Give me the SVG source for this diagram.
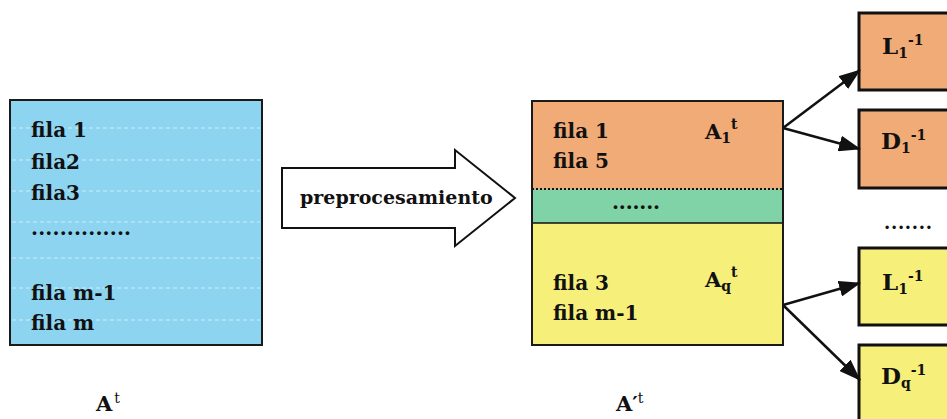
<svg xmlns="http://www.w3.org/2000/svg" width="947" height="419" viewBox="0 0 947 419">
  <style>
    .t { font-family: "DejaVu Serif", "Liberation Serif", serif; font-weight: bold; font-size: 20px; fill: #111; }
    .lbl { font-family: "DejaVu Serif", "Liberation Serif", serif; font-weight: bold; font-size: 21px; fill: #111; }
    .fac { font-size: 23px; }
    .sup { font-size: 14px; }
    .thin { font-weight: normal; }
    .sub { font-size: 14px; }
    .box { stroke: #1a1a1a; stroke-width: 2; }
    .blk { stroke: #111; stroke-width: 3; }
    .rule { stroke: #ffffff; stroke-opacity: 0.55; stroke-width: 1; stroke-dasharray: 4 3; }
    .conn { stroke: #111; stroke-width: 2.5; fill: none; marker-end: url(#head); }
  </style>
  <defs>
    <marker id="head" viewBox="0 0 22 16" refX="21" refY="8" markerWidth="22" markerHeight="16" markerUnits="userSpaceOnUse" orient="auto">
      <path d="M0,0 L22,8 L0,16 z" fill="#111"/>
    </marker>
  </defs>

  <rect width="947" height="419" fill="#ffffff"/>

  <!-- original matrix -->
  <g id="matrix-a">
    <rect class="box" x="10" y="100" width="252" height="245" fill="#8dd4f1"/>
    <line class="rule" x1="12" y1="128" x2="260" y2="128"/>
    <line class="rule" x1="12" y1="160" x2="260" y2="160"/>
    <line class="rule" x1="12" y1="191" x2="260" y2="191"/>
    <line class="rule" x1="12" y1="222" x2="260" y2="222"/>
    <line class="rule" x1="12" y1="258" x2="260" y2="258"/>
    <line class="rule" x1="12" y1="288" x2="260" y2="288"/>
    <line class="rule" x1="12" y1="320" x2="260" y2="320"/>
    <text class="t" x="31" y="137">fila 1</text>
    <text class="t" x="31" y="169">fila2</text>
    <text class="t" x="31" y="200">fila3</text>
    <text class="t" x="31" y="235" textLength="100" lengthAdjust="spacing">..............</text>
    <text class="t" x="31" y="300">fila m-1</text>
    <text class="t" x="31" y="330">fila m</text>
  </g>

  <!-- preprocessing arrow -->
  <g id="preprocesamiento">
    <polygon points="282,168 455,168 455,150 515,198 455,246 455,228 282,228" fill="#ffffff" stroke="#111" stroke-width="2"/>
    <text class="t" x="300" y="204" style="font-size:19px">preprocesamiento</text>
  </g>

  <!-- reordered matrix -->
  <g id="matrix-a-prime">
    <rect x="532" y="101" width="251" height="88" fill="#f1ab77"/>
    <rect x="532" y="189" width="251" height="34" fill="#80d3a6"/>
    <rect x="532" y="223" width="251" height="122" fill="#f6f07a"/>
    <line x1="532" y1="189" x2="783" y2="189" stroke="#111" stroke-width="2" stroke-dasharray="2 2"/>
    <line x1="532" y1="223" x2="783" y2="223" stroke="#111" stroke-width="1.5"/>
    <rect class="box" x="532" y="101" width="251" height="244" fill="none"/>
    <text class="t" x="553" y="138">fila 1</text>
    <text class="t" x="553" y="168">fila 5</text>
    <text class="lbl" x="705" y="139">A<tspan class="sub" dy="4">1</tspan><tspan class="sup" dy="-14">t</tspan></text>
    <text class="t" x="612" y="209" textLength="48" lengthAdjust="spacing">.......</text>
    <text class="t" x="553" y="290">fila 3</text>
    <text class="t" x="553" y="320">fila m-1</text>
    <text class="lbl" x="705" y="287">A<tspan class="sub" dy="4">q</tspan><tspan class="sup" dy="-14">t</tspan></text>
  </g>

  <!-- factor blocks -->
  <g id="l1-inv">
    <rect class="blk" x="859" y="13" width="100" height="77" fill="#f1ab77"/>
    <text class="lbl fac" x="882" y="54">L<tspan class="sub" dy="4">1</tspan><tspan class="sub" dy="-13">-1</tspan></text>
  </g>
  <g id="d1-inv">
    <rect class="blk" x="859" y="110" width="100" height="78" fill="#f1ab77"/>
    <text class="lbl fac" x="881" y="149">D<tspan class="sub" dy="4">1</tspan><tspan class="sub" dy="-13">-1</tspan></text>
  </g>
  <g id="ellipsis">
    <text class="t" x="884" y="229" textLength="48" lengthAdjust="spacing" style="font-size:18px">.......</text>
  </g>
  <g id="lq-inv">
    <rect class="blk" x="859" y="248" width="100" height="77" fill="#f6f07a"/>
    <text class="lbl fac" x="882" y="290">L<tspan class="sub" dy="4">1</tspan><tspan class="sub" dy="-13">-1</tspan></text>
  </g>
  <g id="dq-inv">
    <rect class="blk" x="859" y="345" width="100" height="80" fill="#f6f07a"/>
    <text class="lbl fac" x="881" y="384">D<tspan class="sub" dy="4">q</tspan><tspan class="sub" dy="-13">-1</tspan></text>
  </g>

  <!-- captions -->
  <g id="caption-a">
    <text class="lbl" x="96" y="411">A<tspan class="sup thin" dx="2" dy="-8">t</tspan></text>
  </g>
  <g id="caption-a-prime">
    <text class="lbl" x="616" y="411">A<tspan>′</tspan><tspan class="sup thin" dy="-8">t</tspan></text>
  </g>

  <!-- connectors -->
  <g id="connectors">
    <line class="conn" x1="783" y1="128" x2="860" y2="70"/>
    <line class="conn" x1="783" y1="128" x2="860" y2="149"/>
    <line class="conn" x1="783" y1="305" x2="860" y2="283"/>
    <line class="conn" x1="783" y1="305" x2="860" y2="380"/>
  </g>
</svg>
